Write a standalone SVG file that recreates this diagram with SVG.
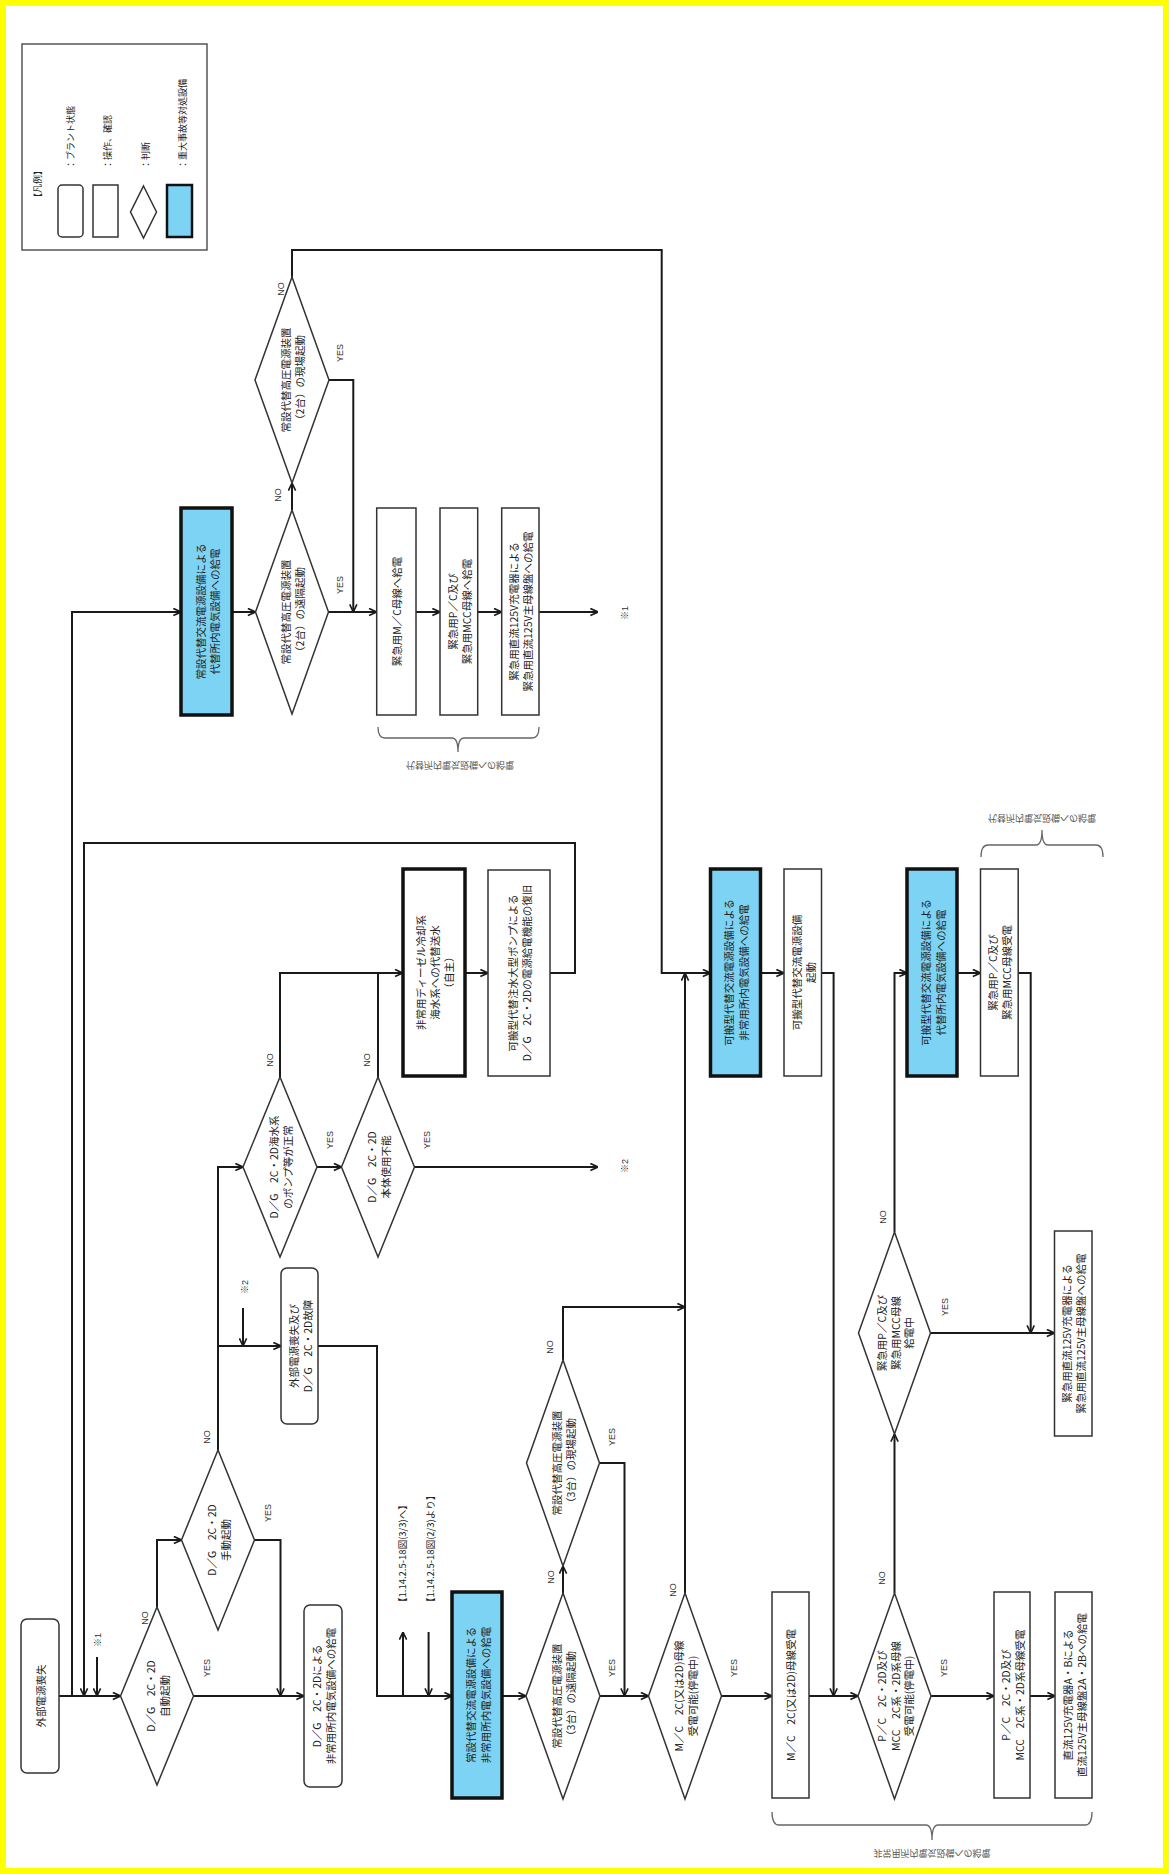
<svg xmlns="http://www.w3.org/2000/svg" width="1169" height="1874" viewBox="0 0 1169 1874">
<style>
.t{font-family:"Noto Sans CJK JP","Liberation Sans",sans-serif;font-size:10.5px;fill:#222;text-anchor:middle;dominant-baseline:central}
.s{font-family:"Liberation Sans","Noto Sans CJK JP",sans-serif;font-size:9px;fill:#333;text-anchor:middle;dominant-baseline:central}
.b{font-family:"Noto Sans CJK JP",sans-serif;font-size:9px;fill:#555;text-anchor:middle;dominant-baseline:central}
.box{fill:#fff;stroke:#333;stroke-width:1.5}
.blue{fill:#7dd3f3;stroke:#111;stroke-width:3.5}
.thick{fill:#fff;stroke:#111;stroke-width:3.5}
.c{fill:none;stroke:#1a1a1a;stroke-width:2}
.ca{fill:none;stroke:#1a1a1a;stroke-width:2;marker-end:url(#a)}
.br{fill:none;stroke:#666;stroke-width:1.3}
</style>
<defs>
<marker id="a" viewBox="0 0 10 10" refX="9.5" refY="5" markerWidth="9" markerHeight="9" markerUnits="userSpaceOnUse" orient="auto">
<path d="M1,1 L9.5,5 L1,9" fill="none" stroke="#1a1a1a" stroke-width="1.8"/>
</marker>
</defs>
<rect x="0" y="0" width="1169" height="1874" fill="#fff"/>
<rect x="3" y="3" width="1163" height="1868" fill="none" stroke="#ffff00" stroke-width="6"/>

<g id="legend">
<rect x="22" y="44" width="185" height="206" fill="#fff" stroke="#555" stroke-width="1.5"/>
<text class="t" style="font-size:9px" transform="translate(37,184) rotate(-90)">【凡例】</text>
<rect x="58" y="185" width="25" height="52" rx="4" class="box"/>
<rect x="93" y="185" width="25" height="52" class="box"/>
<polygon points="143.5,186 156.5,212 143.5,238 130.5,212" class="box"/>
<rect x="167" y="185" width="25" height="52" class="blue" style="stroke-width:2.5"/>
<text class="t" style="font-size:9px;text-anchor:start" transform="translate(70,169) rotate(-90)">：プラント状態</text>
<text class="t" style="font-size:9px;text-anchor:start" transform="translate(107,169) rotate(-90)">：操作、確認</text>
<text class="t" style="font-size:9px;text-anchor:start" transform="translate(145,169) rotate(-90)">：判断</text>
<text class="t" style="font-size:9px;text-anchor:start" transform="translate(182,169) rotate(-90)">：重大事故等対処設備</text>
</g>

<g id="connectors">
<path class="ca" d="M59,1696 H120.5"/>
<path class="ca" d="M72,1696 V612 H181"/>
<path class="ca" d="M550,973 H575 V843 H84 V1696"/>
<path class="ca" d="M97,1657 V1696"/>
<path class="ca" d="M157,1607 V1540 H181.5"/>
<path class="ca" d="M193.5,1696 H304"/>
<path class="ca" d="M254.5,1540 H280.5 V1696"/>
<path class="ca" d="M218,1450 V1167 H243"/>
<path class="ca" d="M218,1346 H281"/>
<path class="ca" d="M243,1308 V1346"/>
<path class="ca" d="M318,1346 H377 V1696 H452"/>
<path class="ca" d="M403,1696 V1632"/>
<path class="ca" d="M428.6,1632 V1696"/>
<path class="ca" d="M502,1696 H526"/>
<path class="ca" d="M563,1593 V1566"/>
<path class="ca" d="M600,1696 H648.5"/>
<path class="ca" d="M599.5,1463 H624.5 V1696"/>
<path class="ca" d="M563,1360 V1307 H685"/>
<path class="ca" d="M685,1593 V973"/>
<path class="ca" d="M292,277 V250 H661.7 V973 H710.5"/>
<path class="ca" d="M721.5,1696 H772"/>
<path class="ca" d="M809,1696 H858"/>
<path class="ca" d="M760.5,973 H784"/>
<path class="ca" d="M821.5,973 H833.6 V1696"/>
<path class="ca" d="M894.5,1593 V1434"/>
<path class="ca" d="M931,1696 H994"/>
<path class="ca" d="M1030,1696 H1055"/>
<path class="ca" d="M894.5,1232 V973 H907"/>
<path class="ca" d="M930.5,1333 H1054.5"/>
<path class="ca" d="M957,973 H980.5"/>
<path class="ca" d="M1018.2,973 H1030.7 V1333"/>
<path class="ca" d="M232,612 H255.5"/>
<path class="ca" d="M292,510 V483"/>
<path class="ca" d="M328.5,612 H376.7"/>
<path class="ca" d="M329,380 H353.3 V612"/>
<path class="ca" d="M416,612 H440"/>
<path class="ca" d="M477.7,612 H501.7"/>
<path class="ca" d="M539,612 H598"/>
<path class="ca" d="M317,1167 H341.5"/>
<path class="ca" d="M280,1077 V973 H402.7"/>
<path class="c" d="M378,1077 V973"/>
<path class="ca" d="M415,1167 H598"/>
<path class="ca" d="M465,973 H488"/>
</g>

<g id="labels">
<text class="s" transform="translate(98,1640) rotate(-90)">※1</text>
<text class="s" transform="translate(625,613) rotate(-90)">※1</text>
<text class="s" transform="translate(245,1287) rotate(-90)">※2</text>
<text class="s" transform="translate(625,1166) rotate(-90)">※2</text>
<text class="s" transform="translate(145,1618) rotate(-90)">NO</text>
<text class="s" transform="translate(207,1668) rotate(-90)">YES</text>
<text class="s" transform="translate(207,1437) rotate(-90)">NO</text>
<text class="s" transform="translate(268,1513) rotate(-90)">YES</text>
<text class="s" transform="translate(270,1060) rotate(-90)">NO</text>
<text class="s" transform="translate(330,1140) rotate(-90)">YES</text>
<text class="s" transform="translate(367,1060) rotate(-90)">NO</text>
<text class="s" transform="translate(427,1140) rotate(-90)">YES</text>
<text class="s" transform="translate(278,495) rotate(-90)">NO</text>
<text class="s" transform="translate(340,585) rotate(-90)">YES</text>
<text class="s" transform="translate(281,289) rotate(-90)">NO</text>
<text class="s" transform="translate(340,353) rotate(-90)">YES</text>
<text class="s" transform="translate(551,1577) rotate(-90)">NO</text>
<text class="s" transform="translate(612,1668) rotate(-90)">YES</text>
<text class="s" transform="translate(550,1347) rotate(-90)">NO</text>
<text class="s" transform="translate(612,1437) rotate(-90)">YES</text>
<text class="s" transform="translate(673,1590) rotate(-90)">NO</text>
<text class="s" transform="translate(734,1668) rotate(-90)">YES</text>
<text class="s" transform="translate(882,1578) rotate(-90)">NO</text>
<text class="s" transform="translate(944,1668) rotate(-90)">YES</text>
<text class="s" transform="translate(883,1217) rotate(-90)">NO</text>
<text class="s" transform="translate(945,1307) rotate(-90)">YES</text>
<text class="t" style="font-size:9.5px;text-anchor:start" transform="translate(402,1607) rotate(-90)">【1.14.2.5-18図(3/3)へ】</text>
<text class="t" style="font-size:9.5px;text-anchor:start" transform="translate(430,1607) rotate(-90)">【1.14.2.5-18図(2/3)より】</text>
</g>

<g id="n-gaibu">
<rect x="21" y="1619" width="38" height="154" rx="6" class="box"/>
<text class="t" transform="translate(40,1696) rotate(-90)">外部電源喪失</text>
</g>
<g id="d-jido">
<polygon points="120.5,1696 157,1607 193.5,1696 157,1785" class="box"/>
<text class="t" transform="translate(157,1696) rotate(-90)"><tspan x="0" y="-7">D／G　2C・2D</tspan><tspan x="0" y="7">自動起動</tspan></text>
</g>
<g id="n-dgkyuden">
<rect x="304" y="1605" width="38" height="182" rx="6" class="box"/>
<text class="t" transform="translate(323,1696) rotate(-90)"><tspan x="0" y="-7">D／G　2C・2Dによる</tspan><tspan x="0" y="7">非常用所内電気設備への給電</tspan></text>
</g>
<g id="d-shudo">
<polygon points="181.5,1540 218,1450 254.5,1540 218,1630" class="box"/>
<text class="t" transform="translate(218,1540) rotate(-90)"><tspan x="0" y="-7">D／G　2C・2D</tspan><tspan x="0" y="7">手動起動</tspan></text>
</g>
<g id="n-koshou">
<rect x="281" y="1268" width="37" height="156" rx="6" class="box"/>
<text class="t" transform="translate(299.5,1346) rotate(-90)"><tspan x="0" y="-7">外部電源喪失及び</tspan><tspan x="0" y="7">D／G　2C・2D故障</tspan></text>
</g>
<g id="d-pump">
<polygon points="243,1167 280,1077 317,1167 280,1257" class="box"/>
<text class="t" transform="translate(280,1167) rotate(-90)"><tspan x="0" y="-7">D／G　2C・2D海水系</tspan><tspan x="0" y="7">のポンプ等が正常</tspan></text>
</g>
<g id="d-hontai">
<polygon points="341.5,1167 378,1077 414.5,1167 378,1257" class="box"/>
<text class="t" transform="translate(378,1167) rotate(-90)"><tspan x="0" y="-7">D／G　2C・2D</tspan><tspan x="0" y="7">本体使用不能</tspan></text>
</g>
<g id="n-kaisui">
<rect x="403" y="869" width="62" height="207" class="thick"/>
<text class="t" transform="translate(434,972.5) rotate(-90)"><tspan x="0" y="-14">非常用ディーゼル冷却系</tspan><tspan x="0" y="0">海水系への代替送水</tspan><tspan x="0" y="14">（自主）</tspan></text>
</g>
<g id="n-fukkyu">
<rect x="488" y="870" width="62" height="206" class="box"/>
<text class="t" transform="translate(519,973) rotate(-90)"><tspan x="0" y="-7">可搬型代替注水大型ポンプによる</tspan><tspan x="0" y="7">D／G　2C・2Dの電源給電機能の復旧</tspan></text>
</g>
<g id="n-blue-top">
<rect x="181" y="508" width="51" height="207" class="blue"/>
<text class="t" transform="translate(206.5,611.5) rotate(-90)"><tspan x="0" y="-7">常設代替交流電源設備による</tspan><tspan x="0" y="7">代替所内電気設備への給電</tspan></text>
</g>
<g id="d-2enkaku">
<polygon points="255.5,612 292,510 328.5,612 292,714" class="box"/>
<text class="t" transform="translate(292,612) rotate(-90)"><tspan x="0" y="-7">常設代替高圧電源装置</tspan><tspan x="0" y="7">（2台）の遠隔起動</tspan></text>
</g>
<g id="d-2genba">
<polygon points="255,380 292,277 329,380 292,483" class="box"/>
<text class="t" transform="translate(292,380) rotate(-90)"><tspan x="0" y="-7">常設代替高圧電源装置</tspan><tspan x="0" y="7">（2台）の現場起動</tspan></text>
</g>
<g id="n-kmc">
<rect x="376.7" y="508" width="39.3" height="207" class="box"/>
<text class="t" transform="translate(396.3,611.5) rotate(-90)">緊急用M／C母線へ給電</text>
</g>
<g id="n-kpc">
<rect x="440" y="508" width="37.7" height="207" class="box"/>
<text class="t" transform="translate(458.8,611.5) rotate(-90)"><tspan x="0" y="-7">緊急用P／C及び</tspan><tspan x="0" y="7">緊急用MCC母線へ給電</tspan></text>
</g>
<g id="n-kdc">
<rect x="501.7" y="508" width="37.3" height="207" class="box"/>
<text class="t" transform="translate(520.3,611.5) rotate(-90)"><tspan x="0" y="-7">緊急用直流125V充電器による</tspan><tspan x="0" y="7">緊急用直流125V主母線盤への給電</tspan></text>
</g>
<g id="n-blue-bottom">
<rect x="452" y="1592" width="50" height="206" class="blue"/>
<text class="t" transform="translate(477,1695) rotate(-90)"><tspan x="0" y="-7.5">常設代替交流電源設備による</tspan><tspan x="0" y="7.5">非常用所内電気設備への給電</tspan></text>
</g>
<g id="d-3enkaku">
<polygon points="526,1696 563,1593 600,1696 563,1799" class="box"/>
<text class="t" transform="translate(563,1696) rotate(-90)"><tspan x="0" y="-7">常設代替高圧電源装置</tspan><tspan x="0" y="7">（3台）の遠隔起動</tspan></text>
</g>
<g id="d-3genba">
<polygon points="526.5,1463 563,1360 599.5,1463 563,1566" class="box"/>
<text class="t" transform="translate(563,1463) rotate(-90)"><tspan x="0" y="-7">常設代替高圧電源装置</tspan><tspan x="0" y="7">（3台）の現場起動</tspan></text>
</g>
<g id="d-mc">
<polygon points="648.5,1696 685,1593 721.5,1696 685,1799" class="box"/>
<text class="t" transform="translate(685,1696) rotate(-90)"><tspan x="0" y="-7">M／C　2C(又は2D)母線</tspan><tspan x="0" y="7">受電可能(停電中)</tspan></text>
</g>
<g id="n-mc">
<rect x="772" y="1592" width="37" height="206" class="box"/>
<text class="t" transform="translate(790.5,1695) rotate(-90)">M／C　2C(又は2D)母線受電</text>
</g>
<g id="d-pc">
<polygon points="858,1696 894.5,1593 931,1696 894.5,1799" class="box"/>
<text class="t" transform="translate(894.5,1696) rotate(-90)"><tspan x="0" y="-13.5">P／C　2C・2D及び</tspan><tspan x="0" y="0">MCC　2C系・2D系母線</tspan><tspan x="0" y="13.5">受電可能(停電中)</tspan></text>
</g>
<g id="n-pc">
<rect x="994" y="1592" width="36" height="206" class="box"/>
<text class="t" transform="translate(1012,1695) rotate(-90)"><tspan x="0" y="-7">P／C　2C・2D及び</tspan><tspan x="0" y="7">MCC　2C系・2D系母線受電</tspan></text>
</g>
<g id="n-dc">
<rect x="1055" y="1592" width="37" height="206" class="box"/>
<text class="t" transform="translate(1073.5,1695) rotate(-90)"><tspan x="0" y="-7">直流125V充電器A・Bによる</tspan><tspan x="0" y="7">直流125V主母線盤2A・2Bへの給電</tspan></text>
</g>
<g id="n-blue-a">
<rect x="710.5" y="869" width="50" height="207" class="blue"/>
<text class="t" transform="translate(735.5,972.5) rotate(-90)"><tspan x="0" y="-7.5">可搬型代替交流電源設備による</tspan><tspan x="0" y="7.5">非常用所内電気設備への給電</tspan></text>
</g>
<g id="n-kahan-kido">
<rect x="784" y="869" width="37.5" height="207" class="box"/>
<text class="t" transform="translate(802.7,972.5) rotate(-90)"><tspan x="0" y="-7">可搬型代替交流電源設備</tspan><tspan x="0" y="7">起動</tspan></text>
</g>
<g id="n-blue-c">
<rect x="907" y="869" width="50" height="207" class="blue"/>
<text class="t" transform="translate(932,972.5) rotate(-90)"><tspan x="0" y="-7.5">可搬型代替交流電源設備による</tspan><tspan x="0" y="7.5">代替所内電気設備への給電</tspan></text>
</g>
<g id="n-kpc-juden">
<rect x="980.5" y="869" width="37.7" height="207" class="box"/>
<text class="t" transform="translate(999.3,972.5) rotate(-90)"><tspan x="0" y="-7">緊急用P／C及び</tspan><tspan x="0" y="7">緊急用MCC母線受電</tspan></text>
</g>
<g id="d-kyudenchu">
<polygon points="858.5,1333 894.5,1232 930.5,1333 894.5,1434" class="box"/>
<text class="t" transform="translate(894.5,1333) rotate(-90)"><tspan x="0" y="-13.5">緊急用P／C及び</tspan><tspan x="0" y="0">緊急用MCC母線</tspan><tspan x="0" y="13.5">給電中</tspan></text>
</g>
<g id="n-kdc2">
<rect x="1054.5" y="1231" width="37.5" height="205" class="box"/>
<text class="t" transform="translate(1073.3,1333.5) rotate(-90)"><tspan x="0" y="-7">緊急用直流125V充電器による</tspan><tspan x="0" y="7">緊急用直流125V主母線盤への給電</tspan></text>
</g>

<g id="braces">
<path class="br" d="M378,727 Q378,738 385,738 H452 Q458,738 458,752 Q458,738 464,738 H532 Q539,738 539,727"/>
<text class="b" transform="translate(460,765) scale(1,-1)">代替所内電気設備への給電</text>
<path class="br" d="M772,1812 Q772,1825 779,1825 H926 Q932,1825 932,1840 Q932,1825 938,1825 H1085 Q1092,1825 1092,1812"/>
<text class="b" transform="translate(932,1853) scale(1,-1)">非常用所内電気設備への給電</text>
<path class="br" d="M981,857 Q981,845 988,845 H1036 Q1042,845 1042,830 Q1042,845 1048,845 H1096 Q1103,845 1103,857"/>
<text class="b" transform="translate(1042,818) scale(1,-1)">代替所内電気設備への給電</text>
</g>
</svg>
